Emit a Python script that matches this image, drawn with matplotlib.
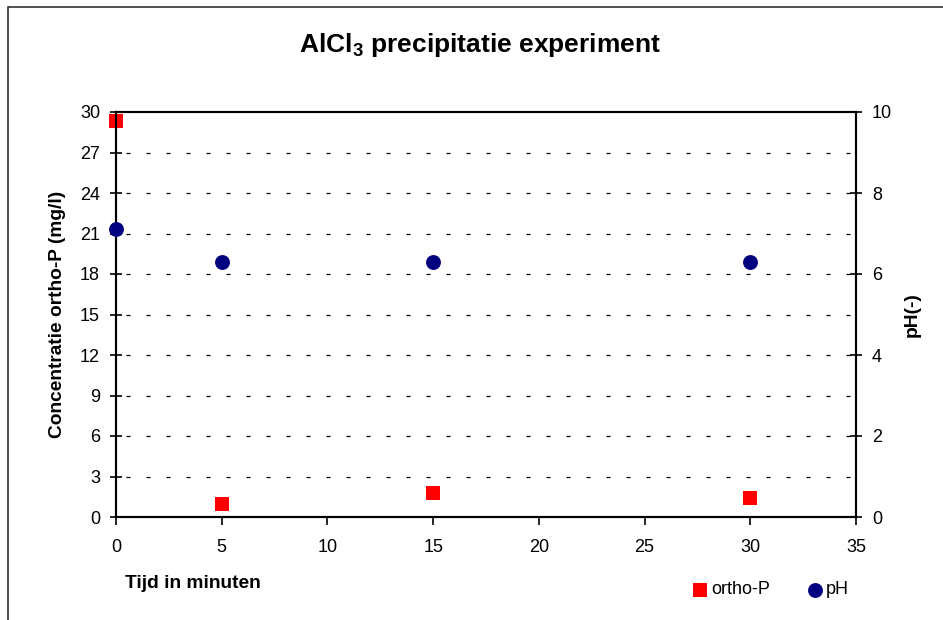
import matplotlib
matplotlib.use("Agg")
import matplotlib.pyplot as plt
from matplotlib.patches import Rectangle

# data
tijd = [0, 5, 15, 30]
ortho_p = [29.3, 1.0, 1.8, 1.4]   # mg/l
ph = [7.1, 6.3, 6.3, 6.3]

plt.rcParams["font.family"] = ["Liberation Sans", "DejaVu Sans"]

W, H = 943, 620
fig = plt.figure(figsize=(W / 100, H / 100), dpi=100)
# outer chart frame (clipped at right/bottom like the screenshot)
fig.patches.append(Rectangle((8 / W, -0.1), 1.0, 1 - 7 / H + 0.1, transform=fig.transFigure,
                             fill=False, ec="#333333", lw=1.2))

ax = fig.add_axes([116 / W, (H - 517) / H, (856 - 116) / W, (517 - 112) / H])
ax2 = ax.twinx()

ax.set_xlim(0, 35)
ax.set_ylim(0, 30)
ax2.set_ylim(0, 10)
ax.set_xticks(range(0, 36, 5))
ax.set_yticks(range(0, 31, 3))
ax2.set_yticks(range(0, 11, 2))

for y in range(3, 30, 3):
    ax.axhline(y, color="black", lw=0.9, ls=(8, (3.2, 12.8)), zorder=0)

ax.scatter(tijd, ortho_p, marker="s", s=95, color="#ff0000", zorder=3, clip_on=False,
           label="ortho-P", linewidths=0)
ax2.scatter(tijd, ph, marker="o", s=115, color="#000080", zorder=3, clip_on=False,
            label="pH", linewidths=0)

for a in (ax, ax2):
    for sp in a.spines.values():
        sp.set_linewidth(1.5)
        sp.set_color("black")
    a.tick_params(direction="inout", length=9, width=1.2, labelsize=13, pad=7)
ax.tick_params(axis="x", direction="out", length=6, pad=10)

ax.set_ylabel("Concentratie ortho-P (mg/l)", fontsize=13.8, fontweight="bold", labelpad=10)
ax2.set_ylabel("pH(-)", fontsize=13.8, fontweight="bold", labelpad=8)
fig.text(125 / W, 1 - 583 / H, "Tijd in minuten", fontsize=13.8, fontweight="bold",
         ha="left", va="center")
fig.text(480 / W, 1 - 45 / H, r"AlCl$_\mathregular{3}$ precipitatie experiment",
         fontsize=19, fontweight="bold", ha="center", va="center")

h1, l1 = ax.get_legend_handles_labels()
h2, l2 = ax2.get_legend_handles_labels()
fig.legend(h1 + h2, l1 + l2, loc="center", bbox_to_anchor=(770 / W, 1 - 590 / H), ncol=2,
           frameon=False, fontsize=13, handletextpad=0.1, columnspacing=2.0,
           handlelength=1.0)

fig.savefig("out.png", dpi=100)
